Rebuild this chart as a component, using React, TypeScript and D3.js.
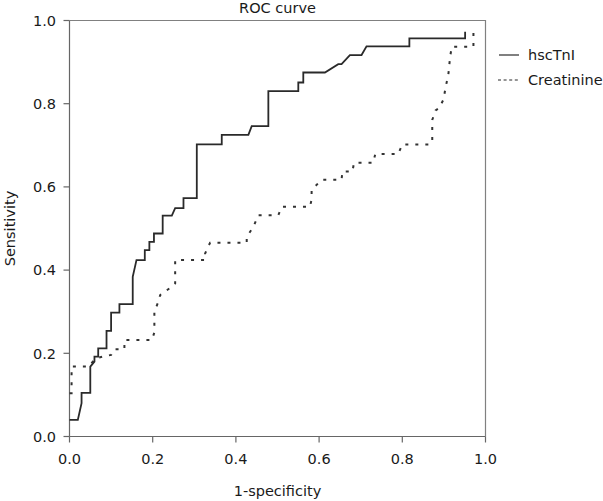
import React from "react";
import * as d3 from "d3";

const hscTnIFpr = [0, 0.02, 0.029, 0.029, 0.05, 0.05, 0.06, 0.06, 0.069, 0.069, 0.089, 0.089, 0.1, 0.1, 0.12, 0.12, 0.152, 0.152, 0.161, 0.181, 0.181, 0.192, 0.192, 0.203, 0.203, 0.224, 0.224, 0.246, 0.254, 0.274, 0.274, 0.306, 0.306, 0.366, 0.366, 0.43, 0.438, 0.478, 0.478, 0.55, 0.55, 0.562, 0.562, 0.614, 0.646, 0.654, 0.674, 0.702, 0.714, 0.817, 0.817, 0.951, 0.951];
const hscTnITpr = [0.04, 0.04, 0.08, 0.105, 0.105, 0.168, 0.18, 0.192, 0.192, 0.212, 0.212, 0.254, 0.254, 0.298, 0.298, 0.318, 0.318, 0.384, 0.424, 0.424, 0.448, 0.448, 0.468, 0.468, 0.488, 0.488, 0.531, 0.531, 0.549, 0.549, 0.573, 0.573, 0.702, 0.702, 0.725, 0.725, 0.746, 0.746, 0.83, 0.83, 0.851, 0.851, 0.875, 0.875, 0.895, 0.895, 0.917, 0.917, 0.938, 0.938, 0.957, 0.957, 0.973];

const creatFpr = [0, 0.005, 0.005, 0.045, 0.064, 0.08, 0.1, 0.108, 0.132, 0.132, 0.198, 0.204, 0.204, 0.212, 0.218, 0.246, 0.254, 0.254, 0.326, 0.326, 0.338, 0.426, 0.426, 0.442, 0.454, 0.502, 0.51, 0.578, 0.582, 0.582, 0.606, 0.654, 0.656, 0.68, 0.684, 0.73, 0.735, 0.79, 0.8, 0.868, 0.872, 0.872, 0.88, 0.888, 0.899, 0.903, 0.911, 0.915, 0.919, 0.971, 0.971];
const creatTpr = [0.104, 0.104, 0.168, 0.168, 0.188, 0.192, 0.196, 0.21, 0.21, 0.232, 0.232, 0.25, 0.3, 0.32, 0.34, 0.36, 0.368, 0.424, 0.424, 0.44, 0.466, 0.466, 0.48, 0.504, 0.532, 0.532, 0.552, 0.552, 0.57, 0.593, 0.617, 0.617, 0.637, 0.637, 0.658, 0.658, 0.679, 0.679, 0.702, 0.702, 0.71, 0.761, 0.784, 0.789, 0.81, 0.833, 0.873, 0.913, 0.937, 0.937, 0.97];

const seriesNames = ["hscTnI", "Creatinine"];
const tickValues = [0, 0.2, 0.4, 0.6, 0.8, 1.0];

const W = 603, H = 501;
const FONT = "'DejaVu Sans', Verdana, sans-serif";

export default function App() {
  const x = d3.scaleLinear().domain([0, 1]).range([69.5, 485.5]);
  const y = d3.scaleLinear().domain([0, 1]).range([436.5, 20.5]);
  const line = d3.line<[number, number]>().x(d => x(d[0])).y(d => y(d[1]));
  const s1 = hscTnIFpr.map((v, i) => [v, hscTnITpr[i]] as [number, number]);
  const s2 = creatFpr.map((v, i) => [v, creatTpr[i]] as [number, number]);
  const axisColor = "#808080";
  const textColor = "#1a1a1a";
  const fs = 14.5;
  return (
    <svg width={W} height={H} style={{ position: "absolute", left: 0, top: 0, background: "#fff" }} fontFamily={FONT}>
      <rect x={0} y={0} width={W} height={H} fill="#fff" />
      {/* frame */}
      <path d={`M${x(0)},${y(1)}H${x(1)}V${y(0)}`} fill="none" stroke={axisColor} strokeWidth={1.2} />
      <line x1={x(0)} x2={x(0)} y1={y(1)} y2={y(0)} stroke="#666" strokeWidth={1.2} />
      <line x1={x(0)} x2={x(1)} y1={y(0)} y2={y(0)} stroke="#666" strokeWidth={1.2} />
      {tickValues.map(t => (
        <g key={"y" + t}>
          <line x1={x(0) - 6} x2={x(0)} y1={y(t)} y2={y(t)} stroke="#666" strokeWidth={1.2} />
          <text x={56} y={y(t)} dy="0.36em" textAnchor="end" fontSize={fs} fill={textColor}>{d3.format(".1f")(t)}</text>
        </g>
      ))}
      {tickValues.map(t => (
        <g key={"x" + t}>
          <line x1={x(t)} x2={x(t)} y1={y(0)} y2={y(0) + 6} stroke="#666" strokeWidth={1.2} />
          <text x={x(t)} y={464} textAnchor="middle" fontSize={fs} fill={textColor}>{d3.format(".1f")(t)}</text>
        </g>
      ))}
      <text x={(x(0) + x(1)) / 2} y={13} textAnchor="middle" fontSize={fs} fill={textColor}>ROC curve</text>
      <text x={(x(0) + x(1)) / 2} y={496} textAnchor="middle" fontSize={fs} fill={textColor}>1-specificity</text>
      <text transform={`translate(15,${(y(0) + y(1)) / 2}) rotate(-90)`} textAnchor="middle" fontSize={fs} fill={textColor}>Sensitivity</text>
      <path d={line(s2) || ""} fill="none" stroke="#333" strokeWidth={2} strokeDasharray="3,7" />
      <path d={line(s1) || ""} fill="none" stroke="#2a2a2a" strokeWidth={1.8} />
      {/* legend */}
      <line x1={499} x2={519} y1={55} y2={55} stroke="#2a2a2a" strokeWidth={1.2} />
      <text x={528} y={55} dy="0.36em" fontSize={fs} fill={textColor}>{seriesNames[0]}</text>
      <line x1={498} x2={519} y1={80} y2={80} stroke="#2a2a2a" strokeWidth={1.2} strokeDasharray="3,2.6" />
      <text x={528} y={80} dy="0.36em" fontSize={fs} fill={textColor}>{seriesNames[1]}</text>
    </svg>
  );
}
